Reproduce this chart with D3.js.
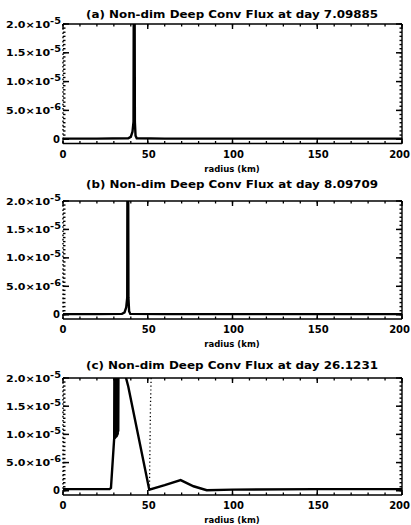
<!DOCTYPE html>
<html><head><meta charset="utf-8">
<script src="https://cdn.jsdelivr.net/npm/d3@7"></script>
<style>
html,body{margin:0;padding:0;background:#fff;}
svg{display:block;}
text{font-family:"DejaVu Sans",sans-serif;font-weight:bold;fill:#000;}
</style></head>
<body>
<svg id="chart" width="411" height="525"></svg>
<script>
// ---------- data ----------
const titles = [
  "(a) Non-dim Deep Conv Flux at day 7.09885",
  "(b) Non-dim Deep Conv Flux at day 8.09709",
  "(c) Non-dim Deep Conv Flux at day 26.1231"
];
const xTicks = [0, 50, 100, 150, 200];
const xTickLabels = ["0", "50", "100", "150", "200"];
const yTicks = [0, 5e-6, 1e-5, 1.5e-5, 2e-5];
const yTickMant = ["0", "5.0×10", "1.0×10", "1.5×10", "2.0×10"];
const yTickExp = ["", "-6", "-5", "-5", "-5"];
const xLabel = "radius (km)";

const aRadius = [0, 20, 38.5, 40, 41, 41.6, 42.0, 42.4, 42.8, 43.5, 60, 100, 150, 200];
const aFlux   = [1e-7, 1e-7, 1.5e-7, 4e-7, 1.3e-6, 3e-6, 6e-5, 3e-6, 6e-7, 1.5e-7, 1e-7, 1e-7, 1e-7, 1e-7];

const bRadius = [0, 20, 34.8, 36.3, 37.3, 37.9, 38.2, 38.6, 39.0, 39.7, 60, 100, 150, 200];
const bFlux   = [1e-7, 1e-7, 1.5e-7, 4e-7, 1.3e-6, 3e-6, 6e-5, 3e-6, 6e-7, 1.5e-7, 1e-7, 1e-7, 1e-7, 1e-7];

const cRadius = [0, 15, 27.5, 28.3, 30.2, 30.35, 30.5, 30.65, 30.8, 30.95, 31.1, 31.25, 31.4, 31.55, 31.7, 31.85, 32.0, 32.15, 32.3, 32.45, 32.6, 32.75, 32.9, 35, 37.2, 38.5, 50.9, 60, 69.4, 77, 84.8, 100, 150, 200];
const cFlux   = [3e-7, 3e-7, 3e-7, 5e-7, 9.3e-6, 2.4e-5, 9.2e-6, 2.4e-5, 9.3e-6, 2.4e-5, 9.4e-6, 2.4e-5, 9.5e-6, 2.4e-5, 9.6e-6, 2.4e-5, 9.8e-6, 2.4e-5, 1e-5, 2.4e-5, 1.05e-5, 2.4e-5, 2.5e-5, 2.7e-5, 2.0e-5, 1.85e-5, 2e-7, 1e-6, 1.9e-6, 8e-7, 1e-7, 2e-7, 3e-7, 3e-7];

const cDotRadius = [52, 51.6, 51.2, 51.0];
const cDotFlux   = [2e-5, 1.5e-5, 5e-6, 3e-7];

// ---------- layout ----------
const svg = d3.select("#chart");
const left = 63, right = 402;
const panels = [
  {top: 24,  bottom: 143.5, titleY: 14,  xs: aRadius, ys: aFlux},
  {top: 201, bottom: 319,   titleY: 184, xs: bRadius, ys: bFlux},
  {top: 378, bottom: 495,   titleY: 365, xs: cRadius, ys: cFlux, dots: [cDotRadius, cDotFlux]}
];

const x = d3.scaleLinear().domain([0, 200]).range([left, right]);

panels.forEach((p, i) => {
  const y = d3.scaleLinear().domain([-7.5e-7, 2e-5]).range([p.bottom, p.top]);
  const g = svg.append("g");
  const clipId = "clip" + i;
  svg.append("clipPath").attr("id", clipId).append("rect")
    .attr("x", left).attr("y", p.top).attr("width", right - left).attr("height", p.bottom - p.top);

  // frame
  g.append("line").attr("x1", left).attr("x2", right).attr("y1", p.top).attr("y2", p.top)
    .attr("stroke", "#000").attr("stroke-width", 1.6);
  g.append("line").attr("x1", left).attr("x2", right).attr("y1", p.bottom).attr("y2", p.bottom)
    .attr("stroke", "#000").attr("stroke-width", 1.6);
  g.append("line").attr("x1", right).attr("x2", right).attr("y1", p.top).attr("y2", p.bottom)
    .attr("stroke", "#000").attr("stroke-width", 1.4);
  g.append("line").attr("x1", left).attr("x2", left).attr("y1", p.top).attr("y2", p.bottom)
    .attr("stroke", "#000").attr("stroke-width", 1.4).attr("stroke-dasharray", "1.6,2.6");

  // minor y ticks (left and right)
  const minor = d3.range(0, 2e-5 + 1e-12, 5e-6 / 7);
  g.selectAll(".ym").data(minor).join("line")
    .attr("x1", left).attr("x2", left + 2.5)
    .attr("y1", d => y(d)).attr("y2", d => y(d))
    .attr("stroke", "#000").attr("stroke-width", 1.4);
  g.selectAll(".ymr").data(minor).join("line")
    .attr("x1", right).attr("x2", right - 2.5)
    .attr("y1", d => y(d)).attr("y2", d => y(d))
    .attr("stroke", "#000").attr("stroke-width", 1.4);
  // major y ticks
  g.selectAll(".yM").data(yTicks).join("line")
    .attr("x1", left).attr("x2", left + 6)
    .attr("y1", d => y(d)).attr("y2", d => y(d))
    .attr("stroke", "#000").attr("stroke-width", 1.5);
  g.selectAll(".yMr").data(yTicks).join("line")
    .attr("x1", right).attr("x2", right - 6)
    .attr("y1", d => y(d)).attr("y2", d => y(d))
    .attr("stroke", "#000").attr("stroke-width", 1.5);

  // x ticks top/bottom
  const xMinor = d3.range(0, 201, 10);
  g.selectAll(".xm").data(xMinor).join("line")
    .attr("x1", d => x(d)).attr("x2", d => x(d))
    .attr("y1", p.bottom).attr("y2", p.bottom - 2.5)
    .attr("stroke", "#000").attr("stroke-width", 1.3);
  g.selectAll(".xmt").data(xMinor).join("line")
    .attr("x1", d => x(d)).attr("x2", d => x(d))
    .attr("y1", p.top).attr("y2", p.top + 2.5)
    .attr("stroke", "#000").attr("stroke-width", 1.3);
  g.selectAll(".xM").data(xTicks).join("line")
    .attr("x1", d => x(d)).attr("x2", d => x(d))
    .attr("y1", p.bottom).attr("y2", p.bottom - 5)
    .attr("stroke", "#000").attr("stroke-width", 1.4);
  g.selectAll(".xMt").data(xTicks).join("line")
    .attr("x1", d => x(d)).attr("x2", d => x(d))
    .attr("y1", p.top).attr("y2", p.top + 5)
    .attr("stroke", "#000").attr("stroke-width", 1.4);

  // y tick labels
  yTicks.forEach((v, k) => {
    if (yTickExp[k] === "") {
      g.append("text").attr("x", 60).attr("y", y(v) + 3.5).attr("text-anchor", "end")
        .attr("font-size", 10).text(yTickMant[k]);
    } else {
      const t = g.append("text").attr("x", 6).attr("y", y(v) + 3.5).attr("text-anchor", "start")
        .attr("font-size", 9).attr("textLength", 55).attr("lengthAdjust", "spacingAndGlyphs");
      t.append("tspan").text(yTickMant[k]);
      t.append("tspan").attr("dy", -4).attr("font-size", 8).text(yTickExp[k]);
    }
  });

  // x tick labels
  xTicks.forEach((v, k) => {
    const last = k === xTicks.length - 1;
    g.append("text").attr("x", last ? 410 : x(v) + (k === 0 ? 0 : 1)).attr("y", p.bottom + 14)
      .attr("text-anchor", last ? "end" : "middle")
      .attr("font-size", 10).text(xTickLabels[k]);
  });

  // x label
  g.append("text").attr("x", 232).attr("y", p.bottom + 28).attr("text-anchor", "middle")
    .attr("font-size", 8.5).text(xLabel);

  // title
  g.append("text").attr("x", 232).attr("y", p.titleY + 4).attr("text-anchor", "middle")
    .attr("font-size", 11).attr("textLength", 292).attr("lengthAdjust", "spacingAndGlyphs")
    .text(titles[i]);

  // data line
  const line = d3.line().x(d => x(d[0])).y(d => y(d[1]));
  const pts = p.xs.map((xv, k) => [xv, p.ys[k]]);
  g.append("path").attr("clip-path", `url(#${clipId})`).datum(pts)
    .attr("d", line).attr("fill", "none").attr("stroke", "#000")
    .attr("stroke-width", 2.4).attr("stroke-linejoin", "miter").attr("stroke-miterlimit", 2);

  if (p.dots) {
    const dp = p.dots[0].map((xv, k) => [xv, p.dots[1][k]]);
    g.append("path").attr("clip-path", `url(#${clipId})`).datum(dp)
      .attr("d", line).attr("fill", "none").attr("stroke", "#000")
      .attr("stroke-width", 1.3).attr("stroke-dasharray", "1.2,2.6");
  }
});
</script>
</body></html>
